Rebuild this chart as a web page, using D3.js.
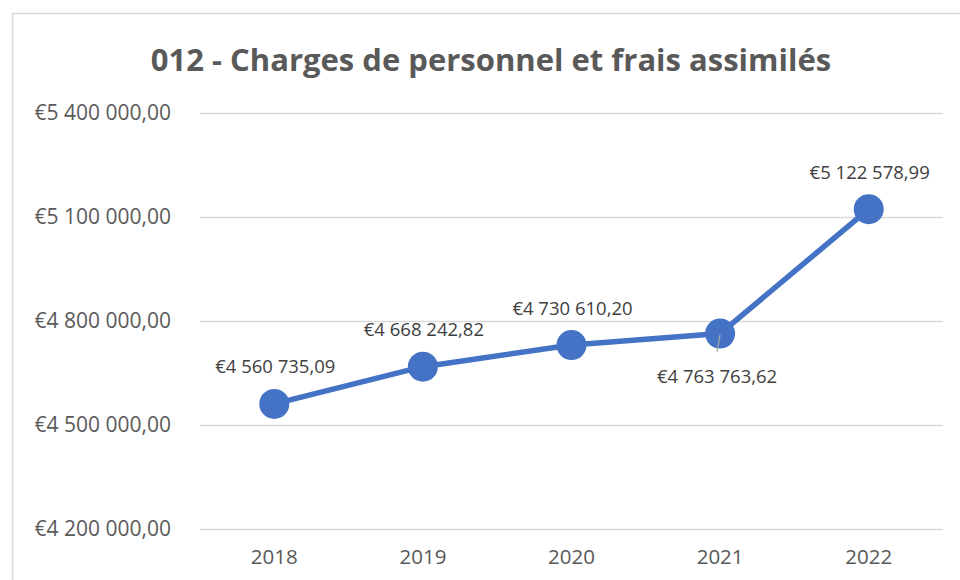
<!DOCTYPE html>
<html lang="fr">
<head>
<meta charset="UTF-8">
<title>012 - Charges de personnel et frais assimilés</title>
<script src="https://cdn.jsdelivr.net/npm/d3@7"></script>
<style>
  body { margin: 0; background: #fff; }
  svg text { font-family: "Open Sans", sans-serif; }
  .grid line { stroke: #d9d9d9; stroke-width: 1.3; }
  .grid path { stroke-width: 0; }
  .axis path, .axis line { display: none; }
  .axis text { fill: #595959; }
</style>
</head>
<body>
<div id="chart"></div>
<script>
// chart data
const title = "012 - Charges de personnel et frais assimilés";
const years = ["2018", "2019", "2020", "2021", "2022"];
const amounts = [4560735.09, 4668242.82, 4730610.20, 4763763.62, 5122578.99];
const yTicks = [4200000, 4500000, 4800000, 5100000, 5400000];
// label side for each point (Excel put the 2021 one under the marker)
const labelSide = ["above", "above", "above", "below", "above"];

const W = 960, H = 580;
const margin = { top: 113, right: 17, bottom: 51, left: 200 };
const width = W - margin.left - margin.right;
const height = H - margin.top - margin.bottom;

const fr = d3.formatLocale({ decimal: ",", thousands: " ", grouping: [3], currency: ["€", ""] });
const euro = fr.format("$,.2f");

const svg = d3.select("#chart").append("svg")
  .attr("width", W)
  .attr("height", H);

// chart area border
svg.append("rect")
  .attr("x", 12.5).attr("y", 13.5)
  .attr("width", W).attr("height", H)
  .attr("fill", "none")
  .attr("stroke", "#d9d9d9")
  .attr("stroke-width", 1.5);

svg.append("text")
  .attr("x", 491).attr("y", 71)
  .attr("text-anchor", "middle")
  .attr("font-size", 31)
  .attr("font-weight", "bold")
  .attr("fill", "#595959")
  .text(title);

const g = svg.append("g")
  .attr("transform", "translate(" + margin.left + "," + margin.top + ")");

const x = d3.scaleBand().domain(years).range([0, width]);
const y = d3.scaleLinear().domain([4200000, 5400000]).range([height, 0]);

// gridlines
g.append("g")
  .attr("class", "grid")
  .call(d3.axisLeft(y).tickValues(yTicks).tickSize(-width).tickFormat(""));

// axes
g.append("g")
  .attr("class", "axis")
  .call(d3.axisLeft(y).tickValues(yTicks).tickFormat(euro).tickPadding(23))
  .attr("font-family", null)
  .selectAll("text")
  .attr("font-size", 21);

g.append("g")
  .attr("class", "axis")
  .attr("transform", "translate(0," + height + ")")
  .call(d3.axisBottom(x).tickSize(0).tickPadding(20))
  .attr("font-family", null)
  .selectAll("text")
  .attr("font-size", 20.5);

const pts = years.map((yr, i) => ({ year: yr, value: amounts[i], side: labelSide[i] }));
const cx = d => x(d.year) + x.bandwidth() / 2;

const line = d3.line()
  .x(cx)
  .y(d => y(d.value));

g.append("path")
  .datum(pts)
  .attr("fill", "none")
  .attr("stroke", "#4472c4")
  .attr("stroke-width", 5.5)
  .attr("stroke-linejoin", "round")
  .attr("d", line);

g.selectAll(".dot")
  .data(pts)
  .join("circle")
  .attr("class", "dot")
  .attr("cx", cx)
  .attr("cy", d => y(d.value))
  .attr("r", 15)
  .attr("fill", "#4472c4");

// leader line for labels placed below
g.selectAll(".leader")
  .data(pts.filter(d => d.side === "below"))
  .join("line")
  .attr("class", "leader")
  .attr("x1", d => cx(d) - 3).attr("y1", d => y(d.value) + 18)
  .attr("x2", d => cx(d)).attr("y2", d => y(d.value) + 1)
  .attr("stroke", "#a6a6a6")
  .attr("stroke-width", 1.3);

g.selectAll(".lbl")
  .data(pts)
  .join("text")
  .attr("class", "lbl")
  .attr("x", d => cx(d) + (d.side === "below" ? -3 : 1))
  .attr("y", d => y(d.value) + (d.side === "below" ? 43 : -37))
  .attr("dy", "0.35em")
  .attr("text-anchor", "middle")
  .attr("font-size", 18.5)
  .attr("fill", "#404040")
  .text(d => euro(d.value));
</script>
</body>
</html>
